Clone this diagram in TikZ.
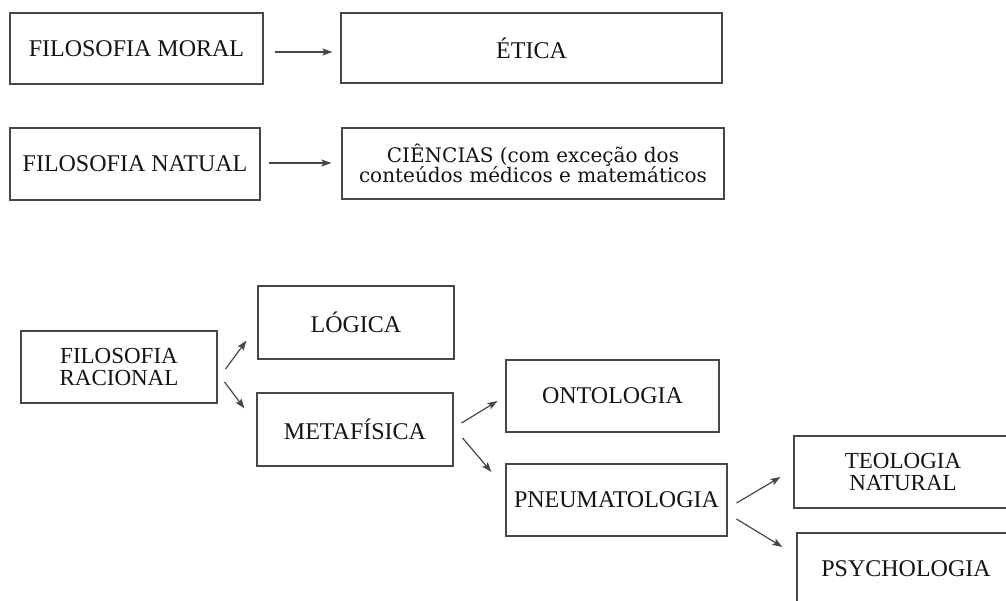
\documentclass[tikz,border=0pt]{standalone}
\usepackage{fontspec}
\setmainfont{Liberation Serif}
\newfontfamily\dvserif{DejaVu Serif}
\usetikzlibrary{arrows.meta}
\begin{document}
\begin{tikzpicture}[x=1pt,y=-1pt,
  box/.style={draw=black!72, line width=1.1pt, inner sep=0pt, align=center, text=black!92,
    font=\fontsize{24}{21}\selectfont},
  twoline/.style={font=\fontsize{23}{22.5}\selectfont},
  arr/.style={draw=black!72, line width=1.2pt, -{Stealth[length=10pt,width=7pt,inset=2pt]}}]
\useasboundingbox (0,0) rectangle (1006,600);
\clip (0,0) rectangle (1006,600);
\node[box, minimum width=253pt, minimum height=71pt] (moral) at (136.5,48.5) {FILOSOFIA MORAL};
\node[box, minimum width=381pt, minimum height=70pt] (etica) at (531.5,48) {ÉTICA};
\node[box, minimum width=250pt, minimum height=72pt] (natual) at (135,164) {FILOSOFIA NATUAL};
\node[box, minimum width=382pt, minimum height=71pt, font=\dvserif\fontsize{20}{20}\selectfont] (ciencias) at (533,163.5) {CIÊNCIAS (com exceção dos\\conteúdos médicos e matemáticos};
\node[box, twoline, minimum width=196pt, minimum height=72pt] (racional) at (119,367) {FILOSOFIA\\RACIONAL};
\node[box, minimum width=196pt, minimum height=73pt] (logica) at (356,322.5) {LÓGICA};
\node[box, minimum width=196pt, minimum height=73pt] (metafisica) at (355,429.5) {METAFÍSICA};
\node[box, minimum width=213pt, minimum height=72pt] (ontologia) at (612.5,396) {ONTOLOGIA};
\node[box, minimum width=221pt, minimum height=72pt] (pneuma) at (616.5,500) {PNEUMATOLOGIA};
\node[box, twoline, minimum width=218pt, minimum height=72pt] (teologia) at (903,472) {TEOLOGIA\\NATURAL};
\node[box, minimum width=218pt, minimum height=72pt] (psych) at (906,569) {PSYCHOLOGIA};
\draw[arr] ([xshift=11pt,yshift=-3.5pt]moral.east) -- ([xshift=-8pt,yshift=-4pt]etica.west);
\draw[arr] ([xshift=8pt,yshift=1pt]natual.east) -- ([xshift=-10pt,yshift=0.5pt]ciencias.west);
\draw[arr] ([xshift=8pt,yshift=-2pt]racional.east) -- ([xshift=-11pt,yshift=19pt]logica.south west);
\draw[arr] ([xshift=7pt,yshift=-15pt]racional.east) -- ([xshift=-12pt,yshift=-16pt]metafisica.north west);
\draw[arr] ([xshift=8pt,yshift=6.5pt]metafisica.east) -- ([xshift=-8pt,yshift=-5pt]ontologia.west);
\draw[arr] ([xshift=9pt,yshift=-8.5pt]metafisica.east) -- ([xshift=-14pt,yshift=28pt]pneuma.west);
\draw[arr] ([xshift=9pt,yshift=-3pt]pneuma.east) -- ([xshift=-13pt,yshift=-5pt]teologia.west);
\draw[arr] ([xshift=9pt,yshift=-19pt]pneuma.east) -- ([xshift=-14pt,yshift=22pt]psych.west);
\end{tikzpicture}
\end{document}
